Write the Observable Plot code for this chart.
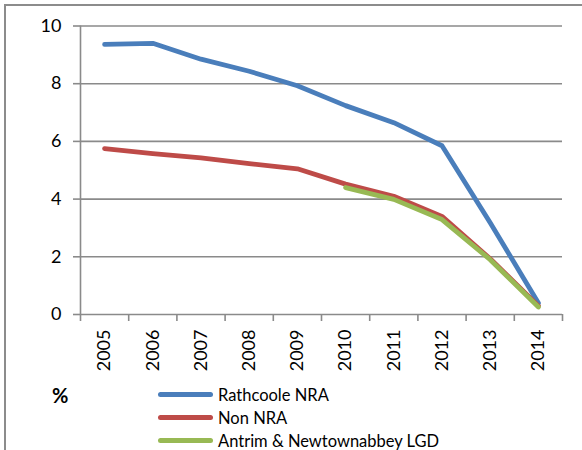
<!DOCTYPE html>
<html>
<head>
<meta charset="utf-8">
<script src="https://cdn.jsdelivr.net/npm/d3@7"></script>
<script src="https://cdn.jsdelivr.net/npm/@observablehq/plot@0.6"></script>
<style>
  html, body { margin: 0; padding: 0; background: #fff; }
  body { width: 582px; height: 450px; position: relative; overflow: hidden; font-family: Lato, "Open Sans", sans-serif; }
  #frame { position: absolute; left: 4px; top: 4px; width: 620px; height: 480px; border: 2px solid #8c8c8c; box-sizing: border-box; }
  #chart { position: absolute; left: 0; top: 0; }
  #pct { position: absolute; left: 52px; top: 383px; font-size: 20px; font-weight: bold; color: #000; }
  #legend { position: absolute; left: 158px; top: 383px; }
  .row { display: flex; align-items: center; height: 23px; font-size: 16.5px; color: #000; }
  .sw { width: 55px; height: 5px; border-radius: 3px; margin-right: 5px; }
</style>
</head>
<body>
<div id="frame"></div>
<div id="chart"></div>
<div id="pct">%</div>
<div id="legend"></div>
<script>
const years = [2005, 2006, 2007, 2008, 2009, 2010, 2011, 2012, 2013, 2014];
const rathcoole = [9.36, 9.40, 8.85, 8.43, 7.93, 7.24, 6.65, 5.85, 3.18, 0.40];
const nonNRA = [5.75, 5.58, 5.43, 5.23, 5.05, 4.52, 4.10, 3.40, 1.93, 0.30];
const antrim = [null, null, null, null, null, 4.40, 3.99, 3.29, 1.90, 0.26];
const seriesNames = ["Rathcoole NRA", "Non NRA", "Antrim & Newtownabbey LGD"];
const seriesColors = ["#4a7ebb", "#be4b48", "#98b954"];
const yTicks = [0, 2, 4, 6, 8, 10];

const seriesValues = [rathcoole, nonNRA, antrim];
const rows = [];
seriesNames.forEach((name, i) => {
  years.forEach((yr, j) => {
    const v = seriesValues[i][j];
    if (v != null) rows.push({series: name, year: yr, value: v});
  });
});
const boundaries = years.map(y => y - 0.5).concat([years[years.length - 1] + 0.5]);
const gray = "#8a8a8a";

const chart = Plot.plot({
  width: 582,
  height: 380,
  marginLeft: 80,
  marginRight: 20,
  marginTop: 25.5,
  marginBottom: 66,
  style: {fontFamily: "Lato, 'Open Sans', sans-serif", fontSize: "18px", color: "#000", background: "transparent"},
  x: {domain: [boundaries[0], boundaries[boundaries.length - 1]], axis: null, label: null},
  y: {domain: [0, 10], axis: null, label: null},
  color: {domain: seriesNames, range: seriesColors},
  marks: [
    Plot.gridY(yTicks, {stroke: gray, strokeOpacity: 1, strokeWidth: 1.6}),
    Plot.axisY({ticks: yTicks, label: null, tickSize: 7, tickPadding: 12, stroke: gray, strokeWidth: 1.6, fontSize: 18, tickFormat: d => String(d)}),
    Plot.ruleX([boundaries[0]], {y1: 0, y2: 10, stroke: gray, strokeWidth: 1.6}),
    Plot.axisX({ticks: boundaries, label: null, tickSize: 7, tickFormat: () => "", stroke: gray, strokeWidth: 1.6}),
    Plot.axisX({ticks: years, label: null, tickSize: 0, tickPadding: 15, tickRotate: -90, fontSize: 18, tickFormat: d => String(d)}),
    Plot.line(rows, {x: "year", y: "value", z: "series", stroke: "series", strokeWidth: 4.8, strokeLinecap: "round", strokeLinejoin: "round"})
  ]
});
document.getElementById("chart").appendChild(chart);

const legend = document.getElementById("legend");
seriesNames.forEach((name, i) => {
  const row = document.createElement("div");
  row.className = "row";
  const sw = document.createElement("div");
  sw.className = "sw";
  sw.style.background = seriesColors[i];
  const t = document.createElement("span");
  t.textContent = name;
  row.appendChild(sw);
  row.appendChild(t);
  legend.appendChild(row);
});
</script>
</body>
</html>
